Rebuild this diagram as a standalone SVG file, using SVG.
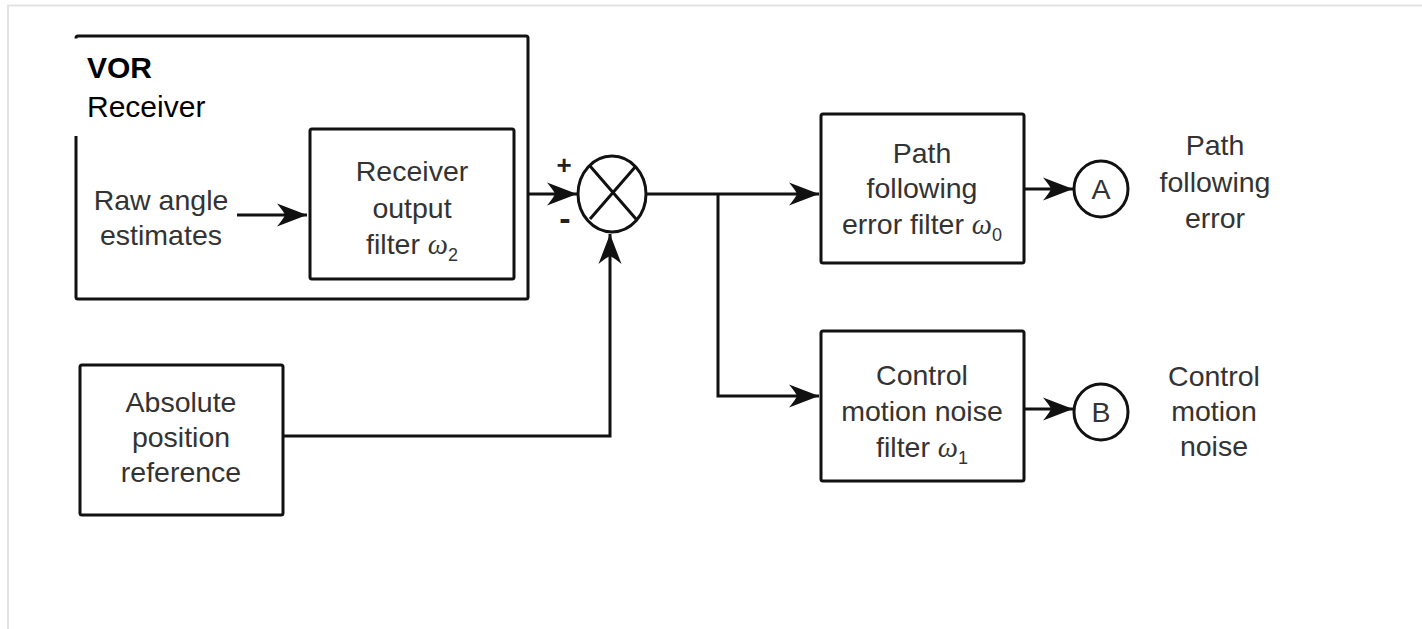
<svg xmlns="http://www.w3.org/2000/svg" width="1422" height="629" viewBox="0 0 1422 629">
<style>
.box{fill:#fff;stroke:#111;stroke-width:3}
.ln{fill:none;stroke:#111;stroke-width:3}
.t{font-family:"Liberation Sans",Arial,sans-serif;font-size:28.5px;fill:#333;text-anchor:middle}
.w{font-family:"Liberation Serif",serif;font-style:italic}
.s{font-size:18px}
.lab{font-family:"Liberation Sans",Arial,sans-serif;font-size:30px;fill:#000}
.sg{font-family:"Liberation Sans",Arial,sans-serif;font-weight:bold;fill:#222;text-anchor:middle}
</style>
<defs>
<marker id="ah" viewBox="-32 -13 34 26" refX="0" refY="0" markerWidth="34" markerHeight="26" markerUnits="userSpaceOnUse" orient="auto">
<path d="M0,0 L-30,-11.5 Q-23,-3 -22,0 Q-23,3 -30,11.5 Z" fill="#111"/>
</marker>
</defs>
<rect width="1422" height="629" fill="#fff"/>
<path d="M8,629 V5.5 H1422" fill="none" stroke="#e2e2e2" stroke-width="2"/>

<g id="vor-receiver">
<rect class="box" x="76" y="36" width="452" height="263" rx="2"/>
<rect x="73" y="38.5" width="167" height="97.5" fill="#fff"/>
<text class="lab" x="87" y="78" font-weight="bold">VOR</text>
<text class="lab" x="87" y="117">Receiver</text>
<text class="t" x="161" y="210">Raw angle</text>
<text class="t" x="161" y="245">estimates</text>
</g>

<g id="receiver-filter">
<rect class="box" x="310" y="129" width="204" height="150" rx="2"/>
<text class="t" x="412" y="181">Receiver</text>
<text class="t" x="412" y="218">output</text>
<text class="t" x="412" y="254">filter <tspan class="w">ω</tspan><tspan class="s" dy="7">2</tspan></text>
</g>

<g id="summing-junction">
<ellipse class="ln" cx="612" cy="194" rx="34" ry="38"/>
<path class="ln" d="M590,166 L636,219 M636,166 L590,219"/>
<text class="sg" x="564" y="174" font-size="26">+</text>
<text class="sg" x="565" y="230" font-size="34">-</text>
</g>

<g id="absolute-reference">
<rect class="box" x="80" y="365" width="203" height="150" rx="2"/>
<text class="t" x="181" y="412">Absolute</text>
<text class="t" x="181" y="447">position</text>
<text class="t" x="181" y="482">reference</text>
</g>

<g id="path-filter">
<rect class="box" x="821" y="114" width="203" height="149" rx="2"/>
<text class="t" x="922" y="163">Path</text>
<text class="t" x="922" y="198">following</text>
<text class="t" x="922" y="234">error filter <tspan class="w">ω</tspan><tspan class="s" dy="7">0</tspan></text>
</g>

<g id="control-filter">
<rect class="box" x="821" y="331" width="203" height="150" rx="2"/>
<text class="t" x="922" y="385">Control</text>
<text class="t" x="922" y="421">motion noise</text>
<text class="t" x="922" y="457">filter <tspan class="w">ω</tspan><tspan class="s" dy="7">1</tspan></text>
</g>

<g id="output-a">
<ellipse class="ln" cx="1101" cy="189" rx="27" ry="28"/>
<text class="t" x="1101" y="199">A</text>
<text class="t" x="1215" y="155">Path</text>
<text class="t" x="1215" y="192">following</text>
<text class="t" x="1215" y="228">error</text>
</g>

<g id="output-b">
<ellipse class="ln" cx="1101" cy="412" rx="27" ry="28"/>
<text class="t" x="1101" y="422">B</text>
<text class="t" x="1214" y="386">Control</text>
<text class="t" x="1214" y="421">motion</text>
<text class="t" x="1214" y="456">noise</text>
</g>

<g id="connectors">
<path class="ln" d="M237,215 H307" marker-end="url(#ah)"/>
<path class="ln" d="M528,194 H577" marker-end="url(#ah)"/>
<path class="ln" d="M283,436 H610 V234" marker-end="url(#ah)"/>
<path class="ln" d="M646,194 H819" marker-end="url(#ah)"/>
<path class="ln" d="M718,194 V396 H819" marker-end="url(#ah)"/>
<path class="ln" d="M1024,189 H1073" marker-end="url(#ah)"/>
<path class="ln" d="M1024,409 H1073" marker-end="url(#ah)"/>
</g>
</svg>
